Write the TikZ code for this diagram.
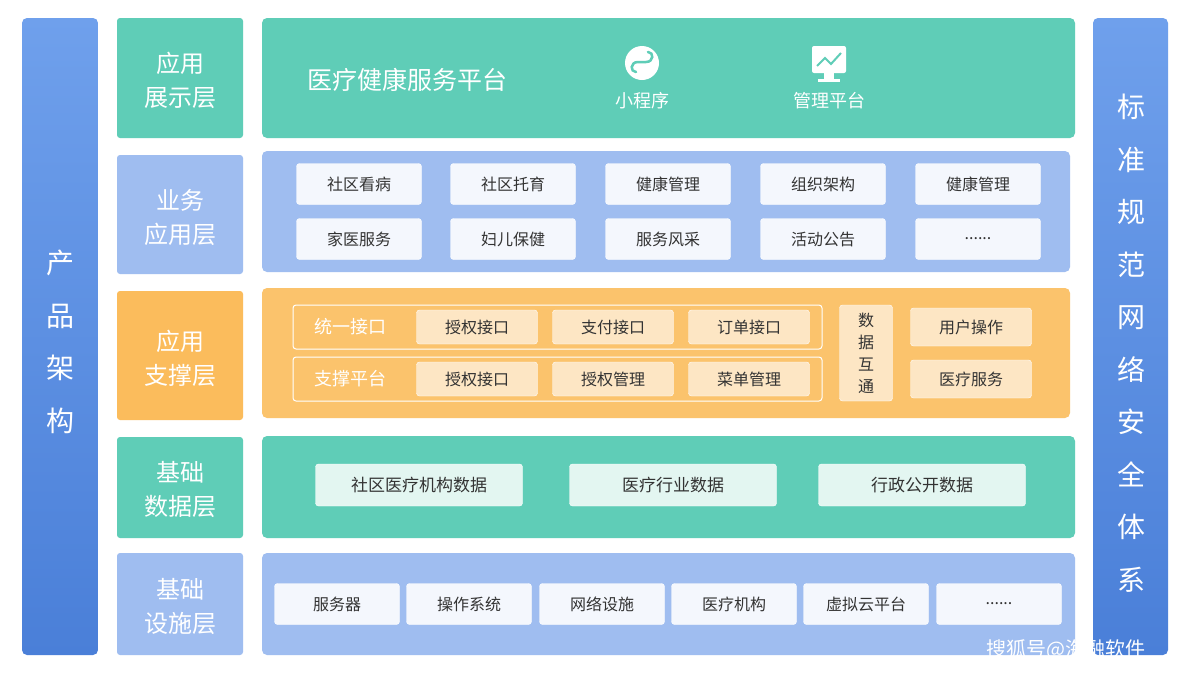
\documentclass[tikz,border=0pt]{standalone}
\usepackage{fontspec}
\setmainfont{Noto Sans CJK SC}
\begin{document}
\begin{tikzpicture}[x=1pt,y=-1pt,
  side/.style={rounded corners=5pt,top color=blueA,bottom color=blueB,draw=none},
  lab/.style={rounded corners=3pt,draw=none,text=white,font=\fontsize{24}{34}\selectfont,align=center,inner sep=0},
  panel/.style={rounded corners=5pt,draw=none},
  wbox/.style={draw=white,fill=boxW,rounded corners=3pt,minimum width=125pt,minimum height=41pt,font=\fontsize{16}{18}\selectfont,text=textD,inner sep=0},
  obox/.style={draw=white,fill=boxO,rounded corners=3pt,minimum width=121pt,minimum height=34pt,font=\fontsize{16}{18}\selectfont,text=textD,inner sep=0},
  tbox/.style={draw=white,fill=boxT,rounded corners=3pt,minimum width=207pt,minimum height=42pt,font=\fontsize{17}{19}\selectfont,text=textD,inner sep=0},
  vtxt/.style={text=white,font=\fontsize{28}{52.5}\selectfont,align=center}]
\definecolor{blueA}{HTML}{6FA0EC}\definecolor{blueB}{HTML}{4A7FD8}
\definecolor{teal}{HTML}{5FCDB7}\definecolor{lblue}{HTML}{9FBDF0}
\definecolor{orange}{HTML}{FBBC5C}\definecolor{boxW}{HTML}{F4F7FD}
\definecolor{boxO}{HTML}{FDE6C4}\definecolor{boxT}{HTML}{E3F6F1}
\definecolor{textD}{HTML}{333333}
\useasboundingbox (0,0) rectangle (1187,675);
\fill[white] (0,0) rectangle (1187,675);
% side bars
\path[side] (22,18) rectangle (98,655);
\node[vtxt] (L) at (60,342) {产\\品\\架\\构};
\path[side] (1093,18) rectangle (1168,655);
\node[vtxt] (R) at (1131,343) {标\\准\\规\\范\\网\\络\\安\\全\\体\\系};
% layer labels
\fill[teal,rounded corners=3pt] (117,18) rectangle (243,138);
\node[lab] (l1) at (180,80) {应用\\展示层};
\fill[lblue,rounded corners=3pt] (117,155) rectangle (243,274);
\node[lab] (l2) at (180,217) {业务\\应用层};
\fill[orange,rounded corners=3pt] (117,291) rectangle (243,420);
\node[lab] (l3) at (180,358) {应用\\支撑层};
\fill[teal,rounded corners=3pt] (117,437) rectangle (243,538);
\node[lab] (l4) at (180,489) {基础\\数据层};
\fill[lblue,rounded corners=3pt] (117,553) rectangle (243,655);
\node[lab] (l5) at (180,606) {基础\\设施层};
% panels
\fill[teal,rounded corners=5pt] (262,18) rectangle (1075,138);
\fill[lblue,rounded corners=5pt] (262,151) rectangle (1070,272);
\fill[orange!90!white,rounded corners=5pt] (262,288) rectangle (1070,418);
\fill[teal,rounded corners=5pt] (262,436) rectangle (1075,538);
\fill[lblue,rounded corners=5pt] (262,553) rectangle (1075,655);
% row1
\node[text=white,font=\fontsize{25}{28}\selectfont] (t1) at (407,80) {医疗健康服务平台};
\fill[white] (642,63) circle (17);
\draw[teal,line width=2.5pt,line cap=round] (636,72) .. controls (630,72) and (630,62) .. (638,62) -- (646,62) .. controls (654,62) and (654,52) .. (648,52);
\node[text=white,font=\fontsize{18}{20}\selectfont] (t2) at (642,101) {小程序};
\fill[white,rounded corners=2pt] (812,46) rectangle (846,73);
\fill[white] (824,73) rectangle (834,79);
\fill[white] (818,79) rectangle (840,82);
\draw[teal,line width=2pt] (817,66) -- (825,58) -- (831,64) -- (841,53);
\node[text=white,font=\fontsize{18}{20}\selectfont] (t3) at (829,101) {管理平台};
% row2
\foreach \x/\a/\b [count=\i] in {359/社区看病/家医服务,513/社区托育/妇儿保健,668/健康管理/服务风采,823/组织架构/活动公告,978/健康管理/{......}}{
  \node[wbox] (a\i) at (\x,184) {\a};
  \node[wbox] (b\i) at (\x,239) {\b};}
% row3
\draw[white,line width=1pt,rounded corners=3pt] (293,305) rectangle (822,349);
\draw[white,line width=1pt,rounded corners=3pt] (293,357) rectangle (822,401);
\node[text=white,font=\fontsize{18}{20}\selectfont] (u1) at (350,327) {统一接口};
\node[text=white,font=\fontsize{18}{20}\selectfont] (u2) at (350,379) {支撑平台};
\node[obox] (o1) at (477,327) {授权接口};
\node[obox] (o2) at (613,327) {支付接口};
\node[obox] (o3) at (749,327) {订单接口};
\node[obox] (o4) at (477,379) {授权接口};
\node[obox] (o5) at (613,379) {授权管理};
\node[obox] (o6) at (749,379) {菜单管理};
\node[obox,minimum width=53pt,minimum height=96pt,align=center,font=\fontsize{16}{22}\selectfont] (d) at (866,353) {数\\据\\互\\通};
\node[obox,minimum height=38pt] (o7) at (971,327) {用户操作};
\node[obox,minimum height=38pt] (o8) at (971,379) {医疗服务};
% row4
\node[tbox] (c1) at (419,485) {社区医疗机构数据};
\node[tbox] (c2) at (673,485) {医疗行业数据};
\node[tbox] (c3) at (922,485) {行政公开数据};
% row5
\foreach \x/\t [count=\i] in {337/服务器,469/操作系统,602/网络设施,734/医疗机构,866/虚拟云平台,999/{......}}
  \node[wbox] (s\i) at (\x,604) {\t};
\node[text=white,font=\fontsize{20}{22}\selectfont] (wm) at (1066,650) {搜狐号@海融软件};
\end{tikzpicture}
\end{document}
